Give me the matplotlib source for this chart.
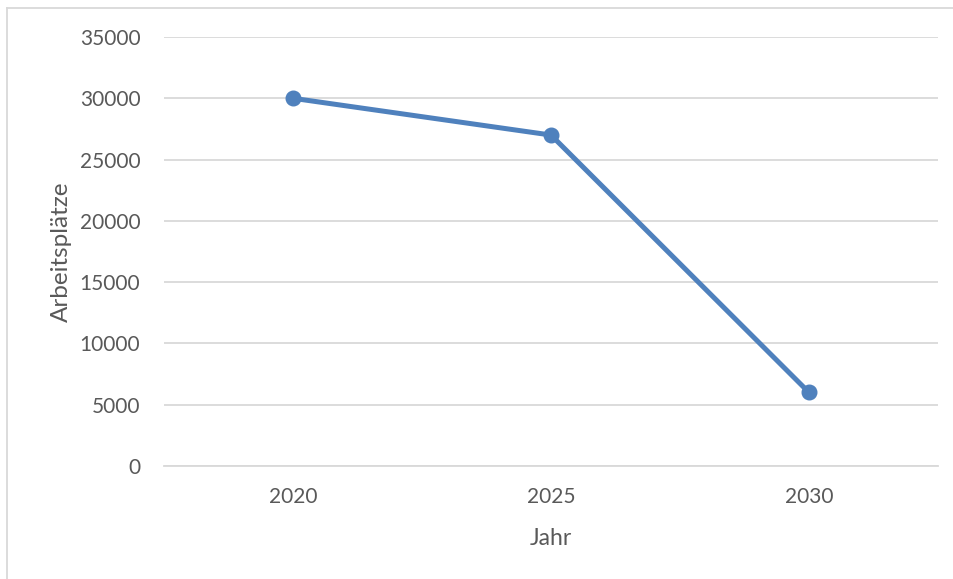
import numpy as np
import matplotlib
matplotlib.use('Agg')
import matplotlib.pyplot as plt
from matplotlib.lines import Line2D

plt.rcParams['font.family'] = ['Lato', 'DejaVu Sans']
plt.rcParams['font.size'] = 15

# data
jahre = ['2020', '2025', '2030']
arbeitsplaetze = [30000, 27000, 6000]
y_ticks = [0, 5000, 10000, 15000, 20000, 25000, 30000, 35000]

text_col = '#595959'
grid_col = '#d9d9d9'
line_col = '#4f81bd'

fig = plt.figure(figsize=(9.54, 5.79), dpi=100)
ax = fig.add_axes([164/954, 1 - 466/579, (938-164)/954, (466-37)/579])

x = np.arange(len(jahre))
ax.plot(x, arbeitsplaetze, color=line_col, lw=3.6, marker='o', ms=10.5,
        solid_capstyle='round', zorder=3)

ax.set_xlim(-0.5, len(jahre) - 0.5)
ax.set_ylim(0, 35000)
ax.set_xticks(x)
ax.set_xticklabels(jahre)
ax.set_yticks(y_ticks)
ax.set_yticklabels([str(v) for v in y_ticks])

ax.yaxis.grid(True, color=grid_col, lw=1.3)
ax.set_axisbelow(True)
for s in ['top', 'right', 'left']:
    ax.spines[s].set_visible(False)
ax.spines['bottom'].set_color(grid_col)
ax.spines['bottom'].set_linewidth(1.3)
ax.tick_params(length=0, colors=text_col, labelsize=15)
ax.tick_params(axis='y', pad=17)
ax.tick_params(axis='x', pad=15)

ax.set_xlabel('Jahr', color=text_col, fontsize=16.5, labelpad=15)
ax.set_ylabel('Arbeitsplätze', color=text_col, fontsize=17.5, labelpad=6)

# chart frame
fig.add_artist(Line2D([7.5/954, 7.5/954], [0, 1 - 8/579], color=grid_col, lw=1.3))
fig.add_artist(Line2D([7.5/954, 1], [1 - 8/579, 1 - 8/579], color=grid_col, lw=1.3))

fig.savefig('out.png', dpi=100, facecolor='white')
